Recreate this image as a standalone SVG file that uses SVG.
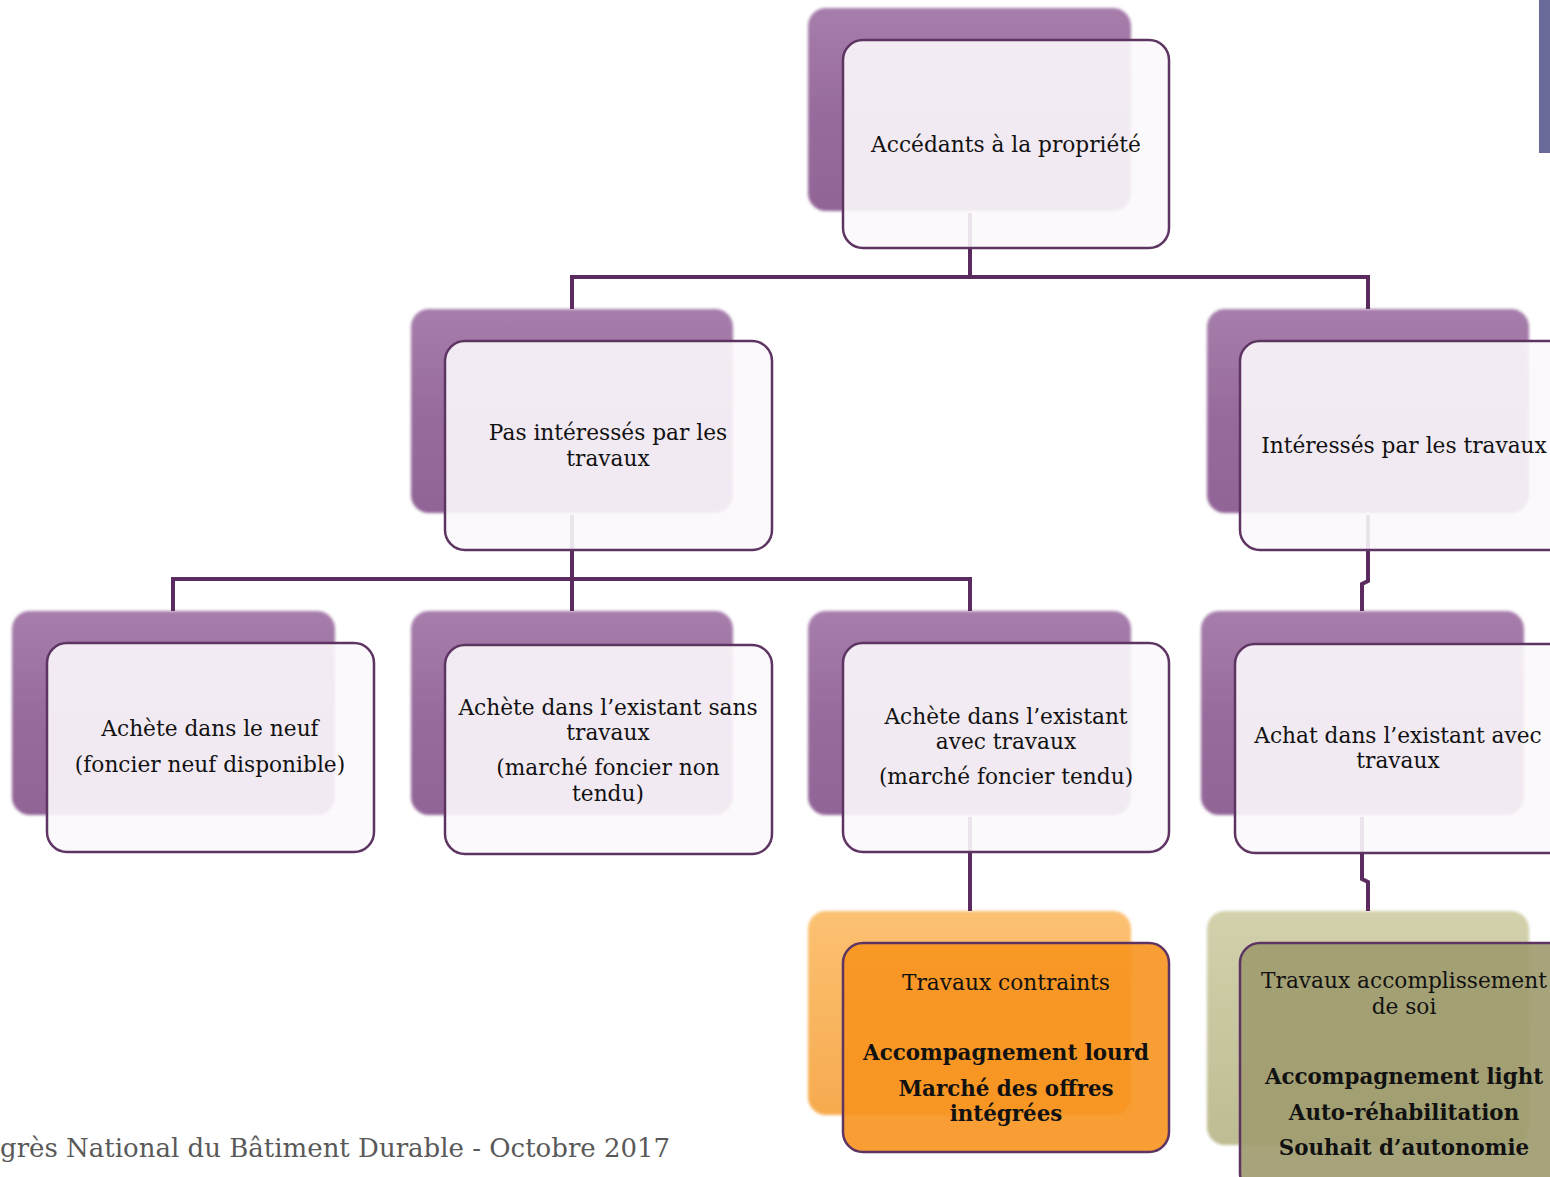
<svg xmlns="http://www.w3.org/2000/svg" width="1550" height="1177" viewBox="0 0 1550 1177">
<defs>
<linearGradient id="gPurple" x1="0" y1="0" x2="0" y2="1">
<stop offset="0" stop-color="#A67DAB"/>
<stop offset="0.5" stop-color="#976C9C"/>
<stop offset="1" stop-color="#916496"/>
</linearGradient>
<linearGradient id="gOrange" x1="0" y1="0" x2="0" y2="1">
<stop offset="0" stop-color="#FBC172"/>
<stop offset="1" stop-color="#F7AA4E"/>
</linearGradient>
<linearGradient id="gOlive" x1="0" y1="0" x2="0" y2="1">
<stop offset="0" stop-color="#D2D1AC"/>
<stop offset="1" stop-color="#BEBC92"/>
</linearGradient>
<filter id="soft" x="-5%" y="-5%" width="110%" height="110%">
<feGaussianBlur stdDeviation="1.5"/>
</filter>
</defs>
<style>
.back{fill:url(#gPurple);filter:url(#soft)}
.backO{fill:url(#gOrange);filter:url(#soft)}
.backG{fill:url(#gOlive);filter:url(#soft)}
.front{fill:#FCF8FC;fill-opacity:0.9;stroke:#5E3462;stroke-width:2.5}
.frontO{fill:#F7941E;fill-opacity:0.9;stroke:#5E3462;stroke-width:2.5}
.frontG{fill:#A09C70;fill-opacity:0.92;stroke:#5E3462;stroke-width:2.5}
.conn{fill:none;stroke:#5B2B60;stroke-width:4}
.t{font-family:"DejaVu Serif","Liberation Serif",serif;font-size:21.7px;fill:#111;text-anchor:middle}
.b{font-family:"DejaVu Serif","Liberation Serif",serif;font-size:21.4px;font-weight:bold;fill:#111;text-anchor:middle}
.foot{font-family:"DejaVu Serif","Liberation Serif",serif;font-size:26px;fill:#595959}
</style>
<rect x="1539" y="0" width="11" height="153" fill="#6A6A9A"/>

<g id="backs">
<rect class="back" x="808" y="8" width="323" height="203" rx="18"/>
<rect class="back" x="411" y="309" width="322" height="204" rx="18"/>
<rect class="back" x="1207" y="309" width="322" height="204" rx="18"/>
<rect class="back" x="12" y="611" width="323" height="204" rx="18"/>
<rect class="back" x="411" y="611" width="322" height="204" rx="18"/>
<rect class="back" x="808" y="611" width="323" height="204" rx="18"/>
<rect class="back" x="1201" y="611" width="323" height="204" rx="18"/>
<rect class="backO" x="808" y="911" width="323" height="204" rx="18"/>
<rect class="backG" x="1207" y="911" width="322" height="234" rx="18"/>
</g>

<g id="connectors">
<path class="conn" d="M970 213 V277 M572 277 H1368 M572 275 V309 M1368 275 V309"/>
<path class="conn" d="M572 515 V611 M173 579 H970 M173 577 V611 M970 577 V611"/>
<path class="conn" d="M1368 515 V581 L1362 584 V611"/>
<path class="conn" d="M970 817 V911"/>
<path class="conn" d="M1362 817 V879 L1368 882 V911"/>
</g>

<g id="n-root">
<rect class="front" x="843" y="40" width="326" height="208" rx="20"/>
<text class="t" x="1006" y="152">Accédants à la propriété</text>
</g>
<g id="n-pas">
<rect class="front" x="445" y="341" width="327" height="209" rx="20"/>
<text class="t" x="608" y="440">Pas intéressés par les</text>
<text class="t" x="608" y="466">travaux</text>
</g>
<g id="n-int">
<rect class="front" x="1240" y="341" width="330" height="209" rx="20"/>
<text class="t" x="1404" y="453">Intéressés par les travaux</text>
</g>
<g id="n-neuf">
<rect class="front" x="47" y="643" width="327" height="209" rx="20"/>
<text class="t" x="210" y="736">Achète dans le neuf</text>
<text class="t" x="210" y="772">(foncier neuf disponible)</text>
</g>
<g id="n-sans">
<rect class="front" x="445" y="645" width="327" height="209" rx="20"/>
<text class="t" x="608" y="715">Achète dans l’existant sans</text>
<text class="t" x="608" y="740">travaux</text>
<text class="t" x="608" y="775">(marché foncier non</text>
<text class="t" x="608" y="801">tendu)</text>
</g>
<g id="n-avec">
<rect class="front" x="843" y="643" width="326" height="209" rx="20"/>
<text class="t" x="1006" y="724">Achète dans l’existant</text>
<text class="t" x="1006" y="749">avec travaux</text>
<text class="t" x="1006" y="784">(marché foncier tendu)</text>
</g>
<g id="n-achat">
<rect class="front" x="1235" y="644" width="335" height="209" rx="20"/>
<text class="t" x="1398" y="743">Achat dans l’existant avec</text>
<text class="t" x="1398" y="768">travaux</text>
</g>
<g id="n-contraints">
<rect class="frontO" x="843" y="943" width="326" height="209" rx="20"/>
<text class="t" x="1006" y="990">Travaux contraints</text>
<text class="b" x="1006" y="1060">Accompagnement lourd</text>
<text class="b" x="1006" y="1096">Marché des offres</text>
<text class="b" x="1006" y="1121">intégrées</text>
</g>
<g id="n-soi">
<rect class="frontG" x="1240" y="943" width="330" height="250" rx="20"/>
<text class="t" x="1404" y="988">Travaux accomplissement</text>
<text class="t" x="1404" y="1014">de soi</text>
<text class="b" x="1404" y="1084">Accompagnement light</text>
<text class="b" x="1404" y="1120">Auto-réhabilitation</text>
<text class="b" x="1404" y="1155">Souhait d’autonomie</text>
</g>

<text class="foot" x="0" y="1157">grès National du Bâtiment Durable - Octobre 2017</text>
</svg>
